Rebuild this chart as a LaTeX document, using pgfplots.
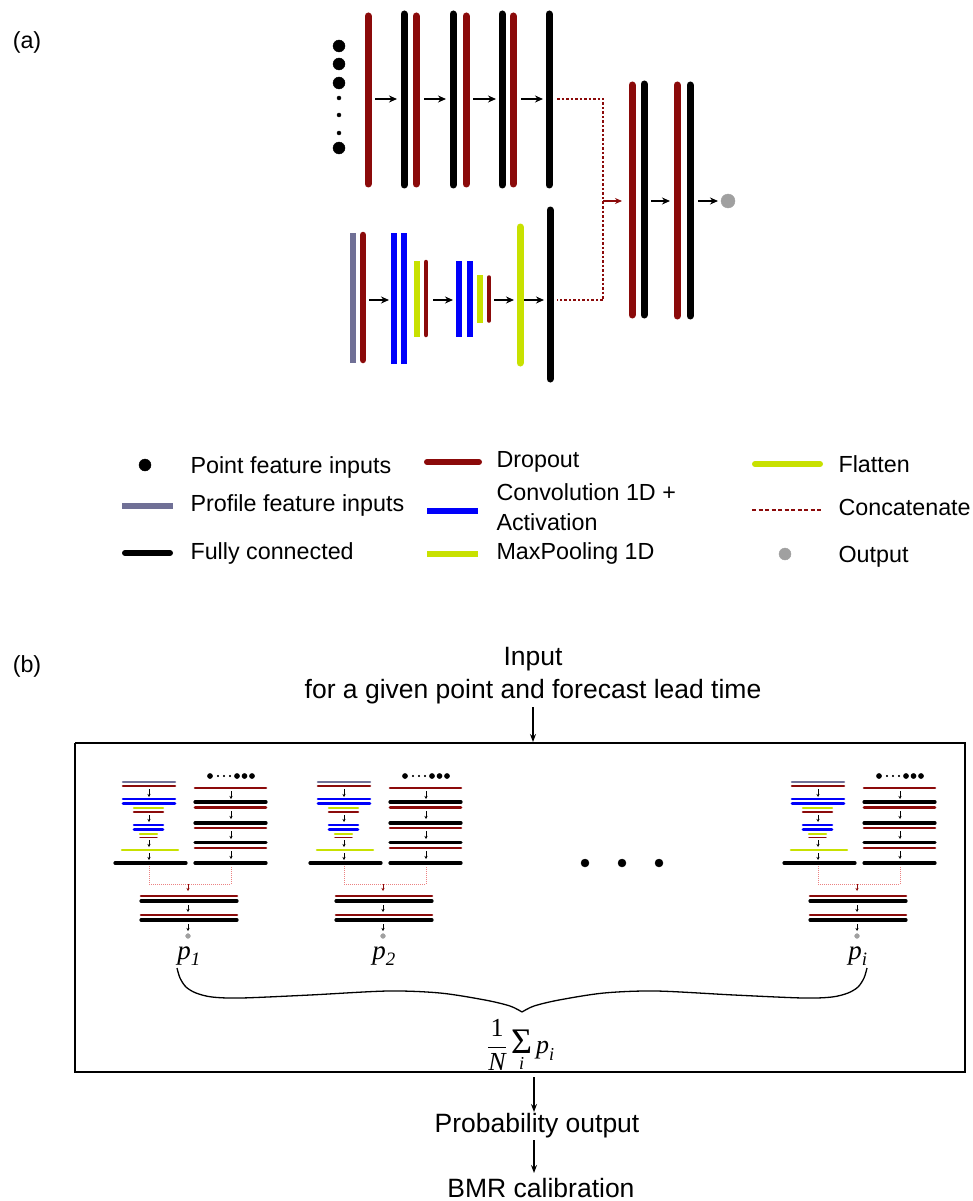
\documentclass[border=0pt]{standalone}
\usepackage{amsmath}
\usepackage{pgfplots}
\pgfplotsset{compat=1.18}
\usetikzlibrary{arrows.meta}
\usepackage{fontspec}
\setmainfont{Liberation Sans}
\newfontfamily\serif{Liberation Serif}
\newcommand{\si}[1]{\text{\serif\itshape #1}}
\definecolor{dred}{RGB}{139,10,10}
\definecolor{cblue}{RGB}{0,0,250}
\definecolor{cyel}{RGB}{200,225,0}
\definecolor{cprof}{RGB}{112,112,150}
\definecolor{cgray}{RGB}{160,160,160}
\definecolor{cpink}{RGB}{235,130,130}
\tikzset{
  vbar/.style={line width=7pt, line cap=round},
  vbut/.style={line width=6pt, line cap=butt},
  arr/.style={-{Stealth[length=8pt,width=7pt]}, line width=1.4pt, black},
  barr/.style={-{Stealth[length=8pt,width=6pt]}, line width=1.2pt, black},
  hb/.style={line width=2.6pt, line cap=round},
  marr/.style={-{Stealth[length=3pt,width=3pt]}, line width=0.6pt, black},
  lg/.style={font=\fontsize{23.3}{27}\selectfont, anchor=base west},
  bt/.style={font=\fontsize{26.5}{30}\selectfont, anchor=base},
}
\newcommand{\mininet}[2]{%
\addplot[cprof, hb, xshift=#1pt] coordinates {(123,782)(175,782)};
\addplot[dred, hb, xshift=#1pt] coordinates {(123,786)(175,786)};
\addplot[marr, xshift=#1pt] coordinates {(149,789)(149,797)};
\addplot[cblue, hb, xshift=#1pt] coordinates {(123,799)(175,799)};
\addplot[cblue, hb, xshift=#1pt] coordinates {(123,803.5)(175,803.5)};
\addplot[cyel, hb, xshift=#1pt] coordinates {(134,808)(163,808)};
\addplot[dred, hb, xshift=#1pt] coordinates {(134,812)(163,812)};
\addplot[marr, xshift=#1pt] coordinates {(149,815)(149,822)};
\addplot[cblue, hb, xshift=#1pt] coordinates {(134,825)(163,825)};
\addplot[cblue, hb, xshift=#1pt] coordinates {(134,829.5)(163,829.5)};
\addplot[cyel, hb, xshift=#1pt] coordinates {(140,834)(157,834)};
\addplot[dred, line width=1.4pt, line cap=round, xshift=#1pt] coordinates {(140,837.5)(157,837.5)};
\addplot[marr, xshift=#1pt] coordinates {(149,840)(149,847)};
\addplot[cyel, hb, xshift=#1pt] coordinates {(122,850)(178,850)};
\addplot[marr, xshift=#1pt] coordinates {(149,853)(149,860)};
\addplot[black, hb, line width=3.2pt, xshift=#1pt] coordinates {(115,863)(186,863)};
\addplot[only marks, mark=*, mark size=2.6pt, black, xshift=#1pt] coordinates {(210,776)(237,776)(244.5,776)(252,776)};
\addplot[only marks, mark=*, mark size=0.8pt, black, xshift=#1pt] coordinates {(218,776)(224,776)(230,776)};
\addplot[dred, hb, xshift=#1pt] coordinates {(195,788)(266,788)};
\addplot[marr, xshift=#1pt] coordinates {(231,791)(231,799)};
\addplot[black, hb, line width=3.2pt, xshift=#1pt] coordinates {(195,802)(266,802)};
\addplot[dred, hb, xshift=#1pt] coordinates {(195,807.5)(266,807.5)};
\addplot[marr, xshift=#1pt] coordinates {(231,811)(231,819)};
\addplot[black, hb, line width=3.2pt, xshift=#1pt] coordinates {(195,823)(266,823)};
\addplot[dred, hb, xshift=#1pt] coordinates {(195,828)(266,828)};
\addplot[marr, xshift=#1pt] coordinates {(231,831)(231,839)};
\addplot[black, hb, line width=3.2pt, xshift=#1pt] coordinates {(195,842.5)(266,842.5)};
\addplot[dred, hb, xshift=#1pt] coordinates {(195,848)(266,848)};
\addplot[marr, xshift=#1pt] coordinates {(231,851)(231,859)};
\addplot[black, hb, line width=3.2pt, xshift=#1pt] coordinates {(195,863)(266,863)};
\addplot[cpink, line width=0.6pt, dash pattern=on 1pt off 1pt, xshift=#1pt] coordinates {(149,866)(149,884)(231,884)(231,866)};
\addplot[-{Stealth[length=3pt,width=3pt]}, line width=0.6pt, dred, xshift=#1pt] coordinates {(188,884)(188,891)};
\addplot[dred, hb, xshift=#1pt] coordinates {(141,896)(237,896)};
\addplot[black, hb, line width=3.2pt, xshift=#1pt] coordinates {(141,901)(237,901)};
\addplot[marr, xshift=#1pt] coordinates {(188,905)(188,912)};
\addplot[dred, hb, xshift=#1pt] coordinates {(141,915)(237,915)};
\addplot[black, hb, line width=3.2pt, xshift=#1pt] coordinates {(141,920)(237,920)};
\addplot[marr, xshift=#1pt] coordinates {(188,924)(188,931)};
\addplot[only marks, mark=*, mark size=2.4pt, cgray, xshift=#1pt] coordinates {(188,936)};
\node[font=\fontsize{27}{30}\selectfont, xshift=#1pt] at (axis cs:189,956) {#2};
}
\begin{document}
\begin{tikzpicture}
\begin{axis}[scale only axis, width=972pt, height=1201pt,
  xmin=0, xmax=972, ymin=0, ymax=1201, y dir=reverse,
  hide axis, clip=false]
% ---------------- (a) top branch
\addplot[only marks, mark=*, mark size=6pt, black] coordinates {(339,46)(339,64)(339,83)(339,148)};
\addplot[only marks, mark=*, mark size=2pt, black] coordinates {(339,98)(339,115)(339,133)};
\addplot[dred, vbar] coordinates {(368,16)(368,184)};
\addplot[black, vbar] coordinates {(404,14)(404,185)};
\addplot[dred, vbar] coordinates {(416,16)(416,184)};
\addplot[black, vbar] coordinates {(453,14)(453,185)};
\addplot[dred, vbar] coordinates {(466,16)(466,184)};
\addplot[black, vbar] coordinates {(502,14)(502,185)};
\addplot[dred, vbar] coordinates {(513,16)(513,184)};
\addplot[black, vbar] coordinates {(549,14)(549,185)};
\addplot[arr] coordinates {(375,99)(397,99)};
\addplot[arr] coordinates {(424,99)(446,99)};
\addplot[arr] coordinates {(473,99)(496,99)};
\addplot[arr] coordinates {(521,99)(543,99)};
% ---------------- (a) lower branch
\addplot[cprof, vbut] coordinates {(353,233)(353,363)};
\addplot[dred, line width=6.5pt, line cap=round] coordinates {(363,235)(363,360)};
\addplot[arr] coordinates {(369,300)(389,300)};
\addplot[cblue, vbut] coordinates {(394,233)(394,364)};
\addplot[cblue, vbut] coordinates {(404,233)(404,364)};
\addplot[cyel, vbut] coordinates {(417,261)(417,337)};
\addplot[dred, line width=4.5pt, line cap=round] coordinates {(426,262)(426,335)};
\addplot[arr] coordinates {(433,300)(453,300)};
\addplot[cblue, vbut] coordinates {(459,261)(459,337)};
\addplot[cblue, vbut] coordinates {(470,261)(470,337)};
\addplot[cyel, vbut] coordinates {(480,275)(480,323)};
\addplot[dred, line width=3.5pt, line cap=round] coordinates {(489,277)(489,321)};
\addplot[arr] coordinates {(494,300)(514,300)};
\addplot[cyel, vbar] coordinates {(520,227)(520,363)};
\addplot[arr] coordinates {(524,300)(544,300)};
\addplot[black, vbar] coordinates {(550,210)(550,379)};
% concatenate
\addplot[dred, line width=1.2pt, dash pattern=on 2.5pt off 2pt] coordinates {(557,99)(603,99)(603,300)(557,300)};
\addplot[-{Stealth[length=7pt,width=6pt]}, line width=1.2pt, dred] coordinates {(603,201)(622,201)};
% merged branch
\addplot[dred, vbar] coordinates {(632,85)(632,315)};
\addplot[black, vbar] coordinates {(644,84)(644,315)};
\addplot[arr] coordinates {(651,201)(670,201)};
\addplot[dred, vbar] coordinates {(677,85)(677,316)};
\addplot[black, vbar] coordinates {(690,85)(690,316)};
\addplot[arr] coordinates {(698,201)(718,201)};
\addplot[only marks, mark=*, mark size=7pt, cgray] coordinates {(728,201)};
\node[font=\fontsize{23.3}{27}\selectfont] at (axis cs:27,42) {(a)};
% ---------------- legend
\addplot[only marks, mark=*, mark size=6pt, black] coordinates {(145,465)};
\addplot[cprof, line width=6pt] coordinates {(122,506)(173,506)};
\addplot[black, line width=6pt, line cap=round] coordinates {(125,553)(170,553)};
\addplot[dred, line width=6pt, line cap=round] coordinates {(427,462)(479,462)};
\addplot[cblue, line width=6pt] coordinates {(427,511)(478,511)};
\addplot[cyel, line width=6pt] coordinates {(427,554)(478,554)};
\addplot[cyel, line width=6pt, line cap=round] coordinates {(755,464)(820,464)};
\addplot[dred, line width=1.5pt, dash pattern=on 4pt off 2.5pt] coordinates {(752,510)(823,510)};
\addplot[only marks, mark=*, mark size=6pt, cgray] coordinates {(785,554)};
\node[lg] at (axis cs:187,473) {Point feature inputs};
\node[lg] at (axis cs:187,511) {Profile feature inputs};
\node[lg] at (axis cs:187,559) {Fully connected};
\node[lg] at (axis cs:493,467) {Dropout};
\node[lg] at (axis cs:493,500) {Convolution 1D +};
\node[lg] at (axis cs:493,530) {Activation};
\node[lg] at (axis cs:493,559) {MaxPooling 1D};
\node[lg] at (axis cs:835,472) {Flatten};
\node[lg] at (axis cs:835,515) {Concatenate};
\node[lg] at (axis cs:835,562) {Output};
% ---------------- (b)
\node[font=\fontsize{23.3}{27}\selectfont] at (axis cs:27,666) {(b)};
\node[bt] at (axis cs:533,665) {Input};
\node[bt] at (axis cs:533,698) {for a given point and forecast lead time};
\addplot[barr] coordinates {(533,707)(533,742)};
\addplot[black, line width=1.6pt] coordinates {(75,743)(965,743)(965,1072)(75,1072)(75,743)};
\mininet{0}{$\si{p}_{\si{1}}$}
\mininet{195}{$\si{p}_{\si{2}}$}
\mininet{669}{$\si{p}_{\si{i}}$}
\addplot[only marks, mark=*, mark size=4pt, black] coordinates {(585,863)(622,863)(659,863)};
% brace
\addplot[black, line width=1.3pt, smooth] coordinates {(177,968)(180,978)(186,987)(196,993)(212,997)(241,998)(310,995)(388,991)(440,993)(485,1000)(510,1006)(522,1012)};
\addplot[black, line width=1.3pt, smooth] coordinates {(522,1012)(534,1006)(559,1000)(604,993)(656,991)(734,995)(803,998)(832,997)(848,993)(858,987)(864,978)(867,968)};
\node[font=\fontsize{26}{30}\selectfont, inner sep=0pt] at (axis cs:521,1046) {$\displaystyle\frac{\text{\serif 1}}{\si{N}}\mathop{\text{\serif\fontsize{36}{36}\selectfont\symbol{"03A3}}}\limits_{\si{i}}\si{p}_{\si{i}}$};
\addplot[barr] coordinates {(534,1077)(534,1112)};
\node[bt] at (axis cs:537,1132) {Probability output};
\addplot[barr] coordinates {(534,1140)(534,1173)};
\node[bt] at (axis cs:541,1197) {BMR calibration};
\end{axis}
\pgfresetboundingbox
\path[use as bounding box] (current axis.south west) rectangle (current axis.north east);
\end{tikzpicture}
\end{document}
